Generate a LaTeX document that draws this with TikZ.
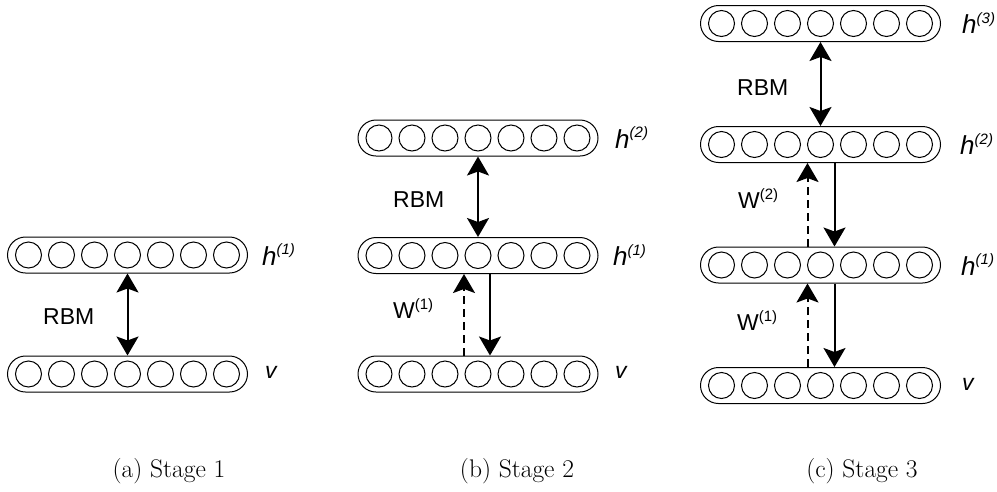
\documentclass[tikz,border=0pt]{standalone}
\usepackage{fontspec}
\newfontfamily\arialf{Liberation Sans}
\usetikzlibrary{arrows.meta}
\tikzset{
  capsule/.style={draw, rounded corners=18pt, minimum width=240pt, minimum height=36pt, inner sep=0pt, line width=1pt},
  unit/.style={draw, circle, minimum size=26pt, inner sep=0pt, line width=1pt},
  conn/.style={line width=2pt},
  mytip/.tip={Stealth[length=19pt,width=22pt,inset=4pt]},
  dbl/.style={conn, mytip-mytip},
  sol/.style={conn, -mytip},
  dsh/.style={conn, -mytip, dash pattern=on 8pt off 5pt},
  lbl/.style={inner sep=0pt, anchor=base west, font=\arialf\fontsize{23pt}{27pt}\selectfont},
  captext/.style={inner sep=0pt, anchor=base, font=\rmfamily\fontsize{25.5pt}{30pt}\selectfont},
}
\newcommand\mylayer[3]{%
  \node[capsule] (#1) at (#2,#3) {};
  \foreach \i in {1,...,7} \node[unit] (#1-\i) at ({#2+(\i-4)*33},#3) {};
}
\newcommand\hlab[1]{{\fontsize{26pt}{28pt}\selectfont\itshape h}\raisebox{10.5pt}{\fontsize{15pt}{16pt}\selectfont\itshape (#1)}}
\newcommand\wlab[1]{W\raisebox{9pt}{\fontsize{15pt}{16pt}\selectfont (#1)}}
\begin{document}
\begin{tikzpicture}[x=1pt,y=-1pt]
\useasboundingbox (0,0) rectangle (997,491);
% Stage 1
\mylayer{ah}{127.5}{255}
\mylayer{av}{127.5}{374}
\draw[dbl] (ah.south) -- (av.north);
\node[lbl] (arbm) at (43,324) {RBM};
\node[lbl] (ahl) at (262,265) {\hlab{1}};
\node[lbl] (avl) at (265,378.5) {\itshape v};
\node[captext] (acap) at (169,477) {(a) Stage 1};
% Stage 2
\mylayer{bh2}{478}{138}
\mylayer{bh1}{478}{255.5}
\mylayer{bv}{478}{374}
\draw[dbl] (bh2.south) -- (bh1.north);
\draw[dsh] ([xshift=-14pt]bv.north) -- ([xshift=-14pt]bh1.south);
\draw[sol] ([xshift=12pt]bh1.south) -- ([xshift=12pt]bv.north);
\node[lbl] (brbm) at (393,207) {RBM};
\node[lbl] (bw) at (393,318) {\wlab{1}};
\node[lbl] (bh2l) at (615,148) {\hlab{2}};
\node[lbl] (bh1l) at (613,265.5) {\hlab{1}};
\node[lbl] (bvl) at (615,378.5) {\itshape v};
\node[captext] (bcap) at (517,477) {(b) Stage 2};
% Stage 3
\mylayer{ch3}{820.5}{23.5}
\mylayer{ch2}{820.5}{144.5}
\mylayer{ch1}{820.5}{265}
\mylayer{cv}{820.5}{385.5}
\draw[dbl] (ch3.south) -- (ch2.north);
\draw[dsh] ([xshift=-13pt]ch1.north) -- ([xshift=-13pt]ch2.south);
\draw[sol] ([xshift=14pt]ch2.south) -- ([xshift=14pt]ch1.north);
\draw[dsh] ([xshift=-13pt]cv.north) -- ([xshift=-13pt]ch1.south);
\draw[sol] ([xshift=14pt]ch1.south) -- ([xshift=14pt]cv.north);
\node[lbl] (crbm) at (737,95) {RBM};
\node[lbl] (cw2) at (738,208) {\wlab{2}};
\node[lbl] (cw1) at (737,330) {\wlab{1}};
\node[lbl] (ch3l) at (962,33.5) {\hlab{3}};
\node[lbl] (ch2l) at (960,154.5) {\hlab{2}};
\node[lbl] (ch1l) at (961,275) {\hlab{1}};
\node[lbl] (cvl) at (962,390) {\itshape v};
\node[captext] (ccap) at (862,477) {(c) Stage 3};
\end{tikzpicture}
\end{document}
